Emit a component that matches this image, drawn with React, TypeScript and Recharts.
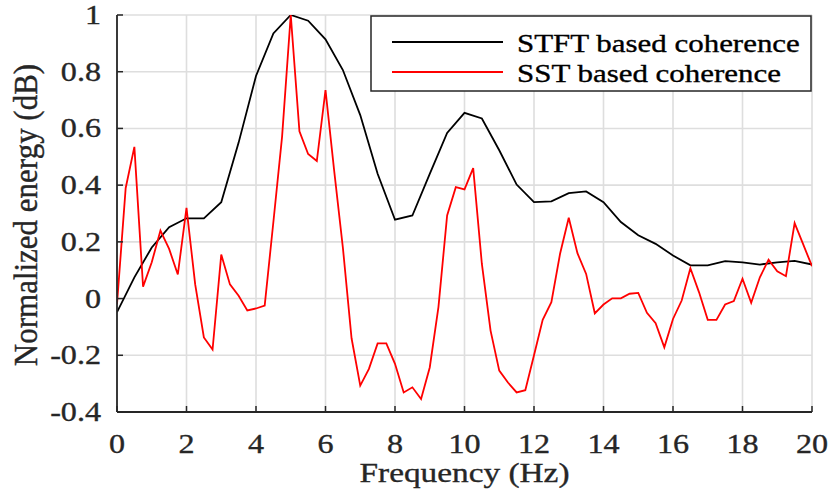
import React from 'react';
import { LineChart, Line, XAxis, YAxis, CartesianGrid, Legend } from 'recharts';

// ---------- data ----------
const sstFreq = [
  0, 0.25, 0.5, 0.75, 1, 1.25, 1.5, 1.75, 2, 2.25, 2.5, 2.75, 3, 3.25, 3.5, 3.75,
  4, 4.25, 4.5, 4.75, 5, 5.25, 5.5, 5.75, 6, 6.25, 6.5, 6.75, 7, 7.25, 7.5, 7.75,
  8, 8.25, 8.5, 8.75, 9, 9.25, 9.5, 9.75, 10, 10.25, 10.5, 10.75, 11, 11.25, 11.5, 11.75,
  12, 12.25, 12.5, 12.75, 13, 13.25, 13.5, 13.75, 14, 14.25, 14.5, 14.75, 15, 15.25, 15.5, 15.75,
  16, 16.25, 16.5, 16.75, 17, 17.25, 17.5, 17.75, 18, 18.25, 18.5, 18.75, 19, 19.25, 19.5, 19.75, 20,
];
const sstValues = [
  -0.02, 0.39, 0.535, 0.042, 0.128, 0.24, 0.175, 0.085, 0.32, 0.05, -0.137, -0.18, 0.155, 0.05, 0.01, -0.042,
  -0.035, -0.025, 0.27, 0.57, 1.0, 0.59, 0.51, 0.485, 0.735, 0.45, 0.18, -0.14, -0.307, -0.248, -0.158, -0.158,
  -0.23, -0.331, -0.313, -0.354, -0.243, -0.03, 0.293, 0.393, 0.385, 0.46, 0.122, -0.113, -0.254, -0.296, -0.331, -0.323,
  -0.2, -0.075, -0.013, 0.158, 0.285, 0.16, 0.087, -0.052, -0.021, 0.001, 0.001, 0.017, 0.02, -0.05, -0.087, -0.172,
  -0.072, -0.007, 0.107, 0.022, -0.075, -0.075, -0.021, -0.009, 0.07, -0.015, 0.075, 0.137, 0.096, 0.079, 0.266, 0.19, 0.114,
];
const stftFreq = [
  0, 0.5, 1, 1.5, 2, 2.5, 3, 3.5, 4, 4.5, 5, 5.5, 6, 6.5, 7, 7.5, 8, 8.5, 9, 9.5,
  10, 10.5, 11, 11.5, 12, 12.5, 13, 13.5, 14, 14.5, 15, 15.5, 16, 16.5, 17, 17.5, 18, 18.5, 19, 19.5, 20,
];
const stftValues = [
  -0.048, 0.075, 0.18, 0.252, 0.283, 0.283, 0.34, 0.55, 0.785, 0.935, 1.0, 0.98, 0.914, 0.806, 0.647, 0.44, 0.278, 0.293, 0.44, 0.584,
  0.655, 0.635, 0.523, 0.402, 0.34, 0.343, 0.372, 0.378, 0.34, 0.27, 0.223, 0.193, 0.152, 0.117, 0.117, 0.132, 0.128, 0.12, 0.128, 0.133, 0.12,
];
const xTicks = [0, 2, 4, 6, 8, 10, 12, 14, 16, 18, 20];
const yTicks = [-0.4, -0.2, 0, 0.2, 0.4, 0.6, 0.8, 1];
const seriesNames = ['STFT based coherence', 'SST based coherence'];
const seriesColors = ['#000000', '#ff0000'];
const xLabel = 'Frequency (Hz)';
const yLabel = 'Normalized energy (dB)';

const stftData = stftFreq.map((f, i) => ({ f, v: stftValues[i] }));
const sstData = sstFreq.map((f, i) => ({ f, v: sstValues[i] }));

// ---------- layout / style ----------
const W = 832;
const H = 497;
const YW = 117;
const XH = 85;
const MARGIN = { top: 15, right: 20, bottom: 0, left: 0 };
const PL = MARGIN.left + YW;
const PR = W - MARGIN.right;
const PT = MARGIN.top;
const PB = H - XH;
const FONT = '"Liberation Serif", "Times New Roman", serif';
const SX = 1.19;
const AX = '#262626';
const TL = 6;
const TXT = { fontFamily: FONT, stroke: AX, strokeWidth: 0.35 };

const fmtY = (v: number) => String(+v.toFixed(1));

const BottomTick = (props: any) => {
  const { x, payload } = props;
  return (
    <g>
      <line x1={x} x2={x} y1={PB} y2={PB - TL} stroke={AX} strokeWidth={1.5} />
      <text
        transform={`translate(${x},${PB + 41}) scale(${SX},1)`}
        textAnchor="middle"
        fontSize={27}
        fill={AX}
        style={TXT}
      >
        {payload.value}
      </text>
    </g>
  );
};

const LeftTick = (props: any) => {
  const { y, payload } = props;
  return (
    <g>
      <line x1={PL} x2={PL + TL} y1={y} y2={y} stroke={AX} strokeWidth={1.5} />
      <text
        transform={`translate(${PL - 16},${y + 9}) scale(${SX},1)`}
        textAnchor="end"
        fontSize={27}
        fill={AX}
        style={TXT}
      >
        {fmtY(payload.value)}
      </text>
    </g>
  );
};

const TopTick = (props: any) => {
  const { x } = props;
  return <line x1={x} x2={x} y1={PT} y2={PT + TL} stroke={AX} strokeWidth={1.5} />;
};

const RightTick = (props: any) => {
  const { y } = props;
  return <line x1={PR} x2={PR - TL} y1={y} y2={y} stroke={AX} strokeWidth={1.5} />;
};

const XTitle = () => (
  <text
    transform={`translate(${(PL + PR) / 2},${PB + 70}) scale(${SX},1)`}
    textAnchor="middle"
    fontSize={28}
    fill={AX}
    style={TXT}
  >
    {xLabel}
  </text>
);

const YTitle = () => (
  <text
    transform={`translate(37,215) scale(1.1,1) rotate(-90)`}
    textAnchor="middle"
    fontSize={31}
    fill={AX}
    style={TXT}
  >
    {yLabel}
  </text>
);

const LEG = { left: 370, top: 15, width: 442, height: 77 };

const LegendBox = () => (
  <svg width={LEG.width} height={LEG.height} style={{ display: 'block' }}>
    <rect x={1} y={1} width={LEG.width - 2} height={LEG.height - 2} fill="#ffffff" stroke={AX} strokeWidth={1.5} />
    {seriesNames.map((name, i) => (
      <g key={name}>
        <line x1={22} x2={133} y1={27 + i * 30} y2={27 + i * 30} stroke={seriesColors[i]} strokeWidth={1.8} />
        <text
          transform={`translate(147,${37 + i * 30}) scale(${SX},1)`}
          fontSize={26}
          fill="#000"
          style={{ fontFamily: FONT, stroke: '#000', strokeWidth: 0.35 }}
        >
          {name}
        </text>
      </g>
    ))}
  </svg>
);

export default function App() {
  return (
    <div style={{ position: 'absolute', left: 0, top: 0, width: W, height: H, background: '#fff' }}>
      <LineChart width={W} height={H} margin={MARGIN}>
        <CartesianGrid xAxisId="b" yAxisId="l" stroke="#dedede" strokeWidth={1.6} />
        <XAxis
          xAxisId="b"
          dataKey="f"
          type="number"
          domain={[0, 20]}
          ticks={xTicks}
          height={XH}
          tick={BottomTick}
          tickLine={false}
          axisLine={{ stroke: AX, strokeWidth: 1.8 }}
          allowDataOverflow
          label={{ value: xLabel, content: XTitle }}
        />
        <XAxis
          xAxisId="t"
          orientation="top"
          dataKey="f"
          type="number"
          domain={[0, 20]}
          ticks={xTicks}
          height={0}
          tick={TopTick}
          tickLine={false}
          axisLine={{ stroke: AX, strokeWidth: 1.8 }}
          allowDataOverflow
        />
        <YAxis
          yAxisId="l"
          type="number"
          domain={[-0.4, 1]}
          ticks={yTicks}
          width={YW}
          tick={LeftTick}
          tickLine={false}
          axisLine={{ stroke: AX, strokeWidth: 1.8 }}
          allowDataOverflow
          label={{ value: yLabel, content: YTitle }}
        />
        <YAxis
          yAxisId="r"
          orientation="right"
          type="number"
          domain={[-0.4, 1]}
          ticks={yTicks}
          width={0}
          tick={RightTick}
          tickLine={false}
          axisLine={{ stroke: AX, strokeWidth: 1.8 }}
          allowDataOverflow
        />
        <Line
          xAxisId="b"
          yAxisId="l"
          data={stftData}
          dataKey="v"
          name={seriesNames[0]}
          stroke={seriesColors[0]}
          strokeWidth={1.8}
          dot={false}
          activeDot={false}
          isAnimationActive={false}
        />
        <Line
          xAxisId="b"
          yAxisId="l"
          data={sstData}
          dataKey="v"
          name={seriesNames[1]}
          stroke={seriesColors[1]}
          strokeWidth={1.8}
          dot={false}
          activeDot={false}
          isAnimationActive={false}
        />
        <Legend
          layout="vertical"
          align="center"
          verticalAlign="middle"
          content={LegendBox}
          wrapperStyle={{ position: 'absolute', left: LEG.left, top: LEG.top, width: LEG.width, height: LEG.height }}
        />
      </LineChart>
    </div>
  );
}
